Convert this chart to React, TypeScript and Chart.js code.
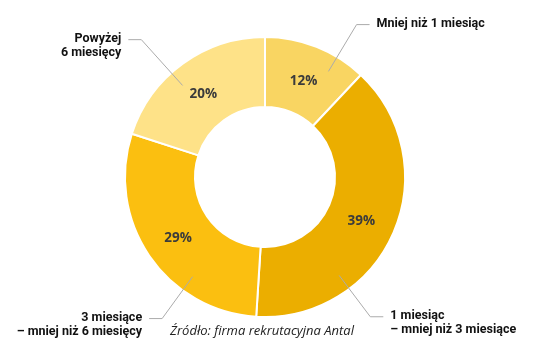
import React, { useEffect, useRef } from "react";
import { Chart, registerables } from "chart.js";

Chart.register(...registerables);

const categories = [
  ["Mniej niż 1 miesiąc"],
  ["1 miesiąc", "– mniej niż 3 miesiące"],
  ["3 miesiące", "– mniej niż 6 miesięcy"],
  ["Powyżej", "6 miesięcy"],
];
const values = [12, 39, 29, 20];
const percentLabels = ["12%", "39%", "29%", "20%"];
const sourceText = "Źródło: firma rekrutacyjna Antal";

const colors = ["#F9D562", "#EBAE00", "#FBBF10", "#FEE288"];
const leaderAngles = [31, 143, 216, 318];
const elbowFactors = [1.27, 1.25, 1.25, 1.32];

const labelPlugin = {
  id: "donutLabels",
  afterDatasetsDraw(chart: any) {
    const ctx = chart.ctx;
    const meta = chart.getDatasetMeta(0);
    ctx.save();
    meta.data.forEach((arc: any, i: number) => {
      const p = arc.getProps(["x", "y", "startAngle", "endAngle", "innerRadius", "outerRadius"], true);
      const mid = (p.startAngle + p.endAngle) / 2;
      const rMid = (p.innerRadius + p.outerRadius) / 2;
      ctx.fillStyle = "#3b3b3b";
      ctx.font = "bold 13.5px 'Open Sans'";
      ctx.textAlign = "center";
      ctx.textBaseline = "middle";
      ctx.fillText(percentLabels[i], p.x + Math.cos(mid) * rMid, p.y + Math.sin(mid) * rMid + 2);

      const a = (leaderAngles[i] * Math.PI) / 180;
      const rs = p.outerRadius * 0.88;
      const re = p.outerRadius * elbowFactors[i];
      const sx = p.x + Math.sin(a) * rs;
      const sy = p.y - Math.cos(a) * rs;
      const ex = p.x + Math.sin(a) * re;
      const ey = p.y - Math.cos(a) * re;
      const dir = Math.sin(a) >= 0 ? 1 : -1;
      const hx = ex + dir * 13;
      ctx.strokeStyle = "#ababab";
      ctx.lineWidth = 1;
      ctx.beginPath();
      ctx.moveTo(sx, sy);
      ctx.lineTo(ex, ey);
      ctx.lineTo(hx, ey);
      ctx.stroke();

      ctx.fillStyle = "#111111";
      ctx.font = "bold 12.5px Roboto";
      ctx.textAlign = dir > 0 ? "left" : "right";
      ctx.textBaseline = "middle";
      const tx = hx + dir * 7;
      categories[i].forEach((line, j) => {
        ctx.fillText(line, tx, ey - 1 + j * 14);
      });
    });
    ctx.fillStyle = "#222222";
    ctx.font = "italic 13px 'Open Sans'";
    ctx.textAlign = "center";
    ctx.textBaseline = "middle";
    ctx.fillText(sourceText, 262, 331);
    ctx.restore();
  },
};

export default function App() {
  const ref = useRef<HTMLCanvasElement>(null);
  useEffect(() => {
    document.body.style.margin = "0";
    const chart = new Chart(ref.current!, {
      type: "doughnut",
      data: {
        labels: categories.map((c) => c.join(" ")),
        datasets: [
          {
            data: values,
            backgroundColor: colors,
            borderColor: "#ffffff",
            borderWidth: 2,
          },
        ],
      },
      options: {
        animation: false,
        responsive: false,
        cutout: "50%",
        layout: { padding: { top: 36, bottom: 38, left: 0, right: 4 } },
        plugins: { legend: { display: false }, tooltip: { enabled: false } },
      },
      plugins: [labelPlugin],
    });
    return () => chart.destroy();
  }, []);
  return (
    <div style={{ width: 534, height: 356 }}>
      <canvas ref={ref} width={534} height={356} />
    </div>
  );
}
